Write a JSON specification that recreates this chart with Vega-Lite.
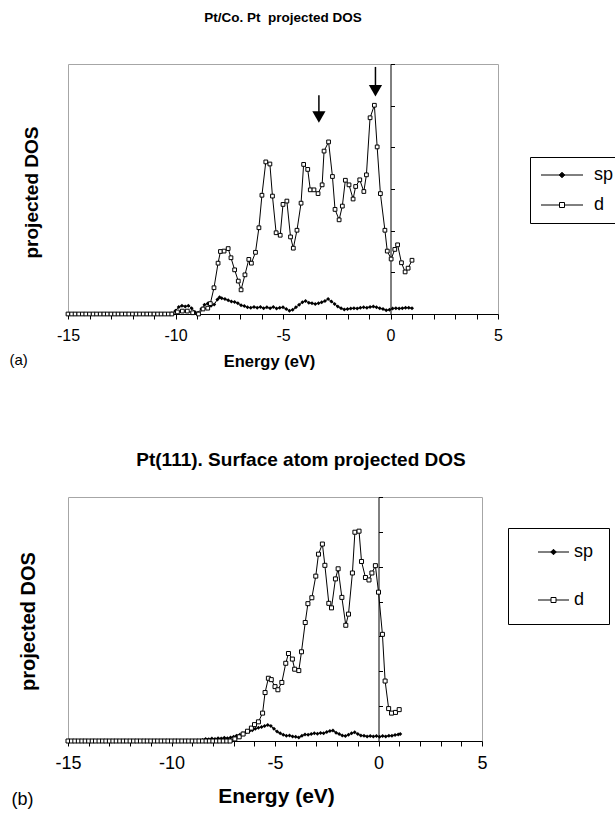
{
  "$schema": "https://vega.github.io/schema/vega-lite/v6.json",
  "padding": {"left": 8, "top": 10, "right": 0, "bottom": 0},
  "background": "white",
  "spacing": 80,
  "config": {
    "font": "Liberation Sans",
    "view": {"stroke": "#a6a6a6", "strokeWidth": 1},
    "axis": {"grid": false, "domainColor": "black", "tickColor": "black", "labelColor": "black", "titleColor": "black", "labelFont": "Liberation Sans", "titleFont": "Liberation Sans", "domainWidth": 1, "tickWidth": 1, "labelOverlap": false, "labelFlush": false},
    "title": {"font": "Liberation Sans", "color": "black", "fontWeight": "bold"},
    "legend": {"labelFont": "Liberation Sans", "labelColor": "black"}
  },
  "datasets": {
    "A": [
      {"s":"sp","e":-15,"v":0},{"s":"sp","e":-14.67,"v":0},{"s":"sp","e":-14.33,"v":0},{"s":"sp","e":-14,"v":0},{"s":"sp","e":-13.67,"v":0},{"s":"sp","e":-13.33,"v":0},{"s":"sp","e":-13,"v":0},{"s":"sp","e":-12.67,"v":0},{"s":"sp","e":-12.33,"v":0},{"s":"sp","e":-12,"v":0},{"s":"sp","e":-11.67,"v":0},{"s":"sp","e":-11.33,"v":0},{"s":"sp","e":-11,"v":0},{"s":"sp","e":-10.67,"v":0},{"s":"sp","e":-10.33,"v":0},{"s":"sp","e":-10.17,"v":0.02},
      {"s":"sp","e":-10.0,"v":0.08},{"s":"sp","e":-9.85,"v":0.17},{"s":"sp","e":-9.7,"v":0.2},{"s":"sp","e":-9.55,"v":0.18},{"s":"sp","e":-9.4,"v":0.2},{"s":"sp","e":-9.25,"v":0.14},{"s":"sp","e":-9.1,"v":0.05},{"s":"sp","e":-8.95,"v":0.03},{"s":"sp","e":-8.8,"v":0.12},{"s":"sp","e":-8.65,"v":0.22},{"s":"sp","e":-8.5,"v":0.25},{"s":"sp","e":-8.35,"v":0.2},{"s":"sp","e":-8.2,"v":0.23},{"s":"sp","e":-8.05,"v":0.35},{"s":"sp","e":-7.95,"v":0.4},{"s":"sp","e":-7.85,"v":0.38},{"s":"sp","e":-7.7,"v":0.36},{"s":"sp","e":-7.55,"v":0.33},{"s":"sp","e":-7.4,"v":0.3},{"s":"sp","e":-7.25,"v":0.29},{"s":"sp","e":-7.1,"v":0.26},{"s":"sp","e":-6.95,"v":0.21},{"s":"sp","e":-6.8,"v":0.19},{"s":"sp","e":-6.65,"v":0.16},{"s":"sp","e":-6.5,"v":0.15},{"s":"sp","e":-6.35,"v":0.17},{"s":"sp","e":-6.2,"v":0.15},{"s":"sp","e":-6.05,"v":0.17},{"s":"sp","e":-5.9,"v":0.14},{"s":"sp","e":-5.75,"v":0.16},{"s":"sp","e":-5.6,"v":0.14},{"s":"sp","e":-5.45,"v":0.17},{"s":"sp","e":-5.3,"v":0.13},{"s":"sp","e":-5.15,"v":0.15},{"s":"sp","e":-5.0,"v":0.16},{"s":"sp","e":-4.85,"v":0.12},{"s":"sp","e":-4.7,"v":0.08},{"s":"sp","e":-4.55,"v":0.1},{"s":"sp","e":-4.4,"v":0.16},{"s":"sp","e":-4.25,"v":0.22},{"s":"sp","e":-4.1,"v":0.28},{"s":"sp","e":-3.95,"v":0.31},{"s":"sp","e":-3.8,"v":0.27},{"s":"sp","e":-3.65,"v":0.26},{"s":"sp","e":-3.5,"v":0.24},{"s":"sp","e":-3.35,"v":0.26},{"s":"sp","e":-3.2,"v":0.28},{"s":"sp","e":-3.05,"v":0.31},{"s":"sp","e":-2.9,"v":0.36},{"s":"sp","e":-2.75,"v":0.3},{"s":"sp","e":-2.6,"v":0.24},{"s":"sp","e":-2.45,"v":0.18},{"s":"sp","e":-2.3,"v":0.14},{"s":"sp","e":-2.15,"v":0.11},{"s":"sp","e":-2.0,"v":0.12},{"s":"sp","e":-1.85,"v":0.13},{"s":"sp","e":-1.7,"v":0.14},{"s":"sp","e":-1.55,"v":0.13},{"s":"sp","e":-1.4,"v":0.15},{"s":"sp","e":-1.25,"v":0.16},{"s":"sp","e":-1.1,"v":0.15},{"s":"sp","e":-0.95,"v":0.17},{"s":"sp","e":-0.8,"v":0.18},{"s":"sp","e":-0.65,"v":0.16},{"s":"sp","e":-0.5,"v":0.14},{"s":"sp","e":-0.35,"v":0.12},{"s":"sp","e":-0.2,"v":0.09},{"s":"sp","e":-0.05,"v":0.1},{"s":"sp","e":0.1,"v":0.13},{"s":"sp","e":0.25,"v":0.14},{"s":"sp","e":0.4,"v":0.13},{"s":"sp","e":0.55,"v":0.14},{"s":"sp","e":0.7,"v":0.15},{"s":"sp","e":0.85,"v":0.15},{"s":"sp","e":1.0,"v":0.14},
      {"s":"d","e":-15,"v":0},{"s":"d","e":-14.83,"v":0},{"s":"d","e":-14.67,"v":0},{"s":"d","e":-14.5,"v":0},{"s":"d","e":-14.33,"v":0},{"s":"d","e":-14.17,"v":0},{"s":"d","e":-14,"v":0},{"s":"d","e":-13.83,"v":0},{"s":"d","e":-13.67,"v":0},{"s":"d","e":-13.5,"v":0},{"s":"d","e":-13.33,"v":0},{"s":"d","e":-13.17,"v":0},{"s":"d","e":-13,"v":0},{"s":"d","e":-12.83,"v":0},{"s":"d","e":-12.67,"v":0},{"s":"d","e":-12.5,"v":0},{"s":"d","e":-12.33,"v":0},{"s":"d","e":-12.17,"v":0},{"s":"d","e":-12,"v":0},{"s":"d","e":-11.83,"v":0},{"s":"d","e":-11.67,"v":0},{"s":"d","e":-11.5,"v":0},{"s":"d","e":-11.33,"v":0},{"s":"d","e":-11.17,"v":0},{"s":"d","e":-11,"v":0},{"s":"d","e":-10.83,"v":0},{"s":"d","e":-10.67,"v":0},{"s":"d","e":-10.5,"v":0},{"s":"d","e":-10.33,"v":0},{"s":"d","e":-10.17,"v":0},
      {"s":"d","e":-9.91,"v":0.05},{"s":"d","e":-9.68,"v":0.07},{"s":"d","e":-9.45,"v":0.07},{"s":"d","e":-9.2,"v":0.03},{"s":"d","e":-8.93,"v":0},{"s":"d","e":-8.72,"v":0.12},{"s":"d","e":-8.5,"v":0.14},{"s":"d","e":-8.38,"v":0.25},{"s":"d","e":-8.21,"v":0.63},{"s":"d","e":-8.02,"v":1.22},{"s":"d","e":-7.91,"v":1.5},{"s":"d","e":-7.74,"v":1.51},{"s":"d","e":-7.55,"v":1.57},{"s":"d","e":-7.42,"v":1.35},{"s":"d","e":-7.25,"v":1.06},{"s":"d","e":-7.08,"v":0.79},{"s":"d","e":-6.95,"v":0.58},{"s":"d","e":-6.77,"v":0.94},{"s":"d","e":-6.59,"v":1.31},{"s":"d","e":-6.47,"v":1.22},{"s":"d","e":-6.28,"v":1.48},{"s":"d","e":-6.12,"v":2.07},{"s":"d","e":-5.98,"v":2.85},{"s":"d","e":-5.8,"v":3.65},{"s":"d","e":-5.61,"v":3.6},{"s":"d","e":-5.49,"v":2.83},{"s":"d","e":-5.32,"v":1.95},{"s":"d","e":-5.13,"v":1.89},{"s":"d","e":-5.0,"v":2.63},{"s":"d","e":-4.82,"v":2.71},{"s":"d","e":-4.65,"v":1.85},{"s":"d","e":-4.52,"v":1.58},{"s":"d","e":-4.35,"v":2.01},{"s":"d","e":-4.16,"v":2.66},{"s":"d","e":-4.04,"v":3.59},{"s":"d","e":-3.85,"v":3.47},{"s":"d","e":-3.73,"v":2.98},{"s":"d","e":-3.56,"v":2.98},{"s":"d","e":-3.37,"v":2.89},{"s":"d","e":-3.18,"v":3.1},{"s":"d","e":-3.09,"v":3.91},{"s":"d","e":-2.88,"v":4.13},{"s":"d","e":-2.7,"v":3.3},{"s":"d","e":-2.58,"v":2.51},{"s":"d","e":-2.39,"v":2.26},{"s":"d","e":-2.24,"v":2.59},{"s":"d","e":-2.1,"v":3.21},{"s":"d","e":-1.93,"v":3.1},{"s":"d","e":-1.74,"v":2.76},{"s":"d","e":-1.62,"v":3.06},{"s":"d","e":-1.43,"v":3.22},{"s":"d","e":-1.24,"v":2.94},{"s":"d","e":-1.12,"v":3.34},{"s":"d","e":-0.95,"v":4.71},{"s":"d","e":-0.75,"v":5.01},{"s":"d","e":-0.62,"v":4.01},{"s":"d","e":-0.47,"v":2.89},{"s":"d","e":-0.26,"v":2.01},{"s":"d","e":-0.15,"v":1.51},{"s":"d","e":0.03,"v":1.32},{"s":"d","e":0.2,"v":1.55},{"s":"d","e":0.33,"v":1.66},{"s":"d","e":0.51,"v":1.23},{"s":"d","e":0.68,"v":1.01},{"s":"d","e":0.82,"v":1.1},{"s":"d","e":1.0,"v":1.29}
    ],
    "B": [
      {"s":"sp","e":-15,"v":0},{"s":"sp","e":-14.67,"v":0},{"s":"sp","e":-14.33,"v":0},{"s":"sp","e":-14,"v":0},{"s":"sp","e":-13.67,"v":0},{"s":"sp","e":-13.33,"v":0},{"s":"sp","e":-13,"v":0},{"s":"sp","e":-12.67,"v":0},{"s":"sp","e":-12.33,"v":0},{"s":"sp","e":-12,"v":0},{"s":"sp","e":-11.67,"v":0},{"s":"sp","e":-11.33,"v":0},{"s":"sp","e":-11,"v":0},{"s":"sp","e":-10.67,"v":0},{"s":"sp","e":-10.33,"v":0},{"s":"sp","e":-10,"v":0},{"s":"sp","e":-9.67,"v":0},{"s":"sp","e":-9.33,"v":0},{"s":"sp","e":-9,"v":0},{"s":"sp","e":-8.67,"v":0.01},
      {"s":"sp","e":-8.5,"v":0.03},{"s":"sp","e":-8.35,"v":0.06},{"s":"sp","e":-8.2,"v":0.05},{"s":"sp","e":-8.05,"v":0.07},{"s":"sp","e":-7.9,"v":0.06},{"s":"sp","e":-7.75,"v":0.08},{"s":"sp","e":-7.6,"v":0.07},{"s":"sp","e":-7.45,"v":0.09},{"s":"sp","e":-7.3,"v":0.08},{"s":"sp","e":-7.15,"v":0.1},{"s":"sp","e":-7.0,"v":0.12},{"s":"sp","e":-6.86,"v":0.15},{"s":"sp","e":-6.7,"v":0.18},{"s":"sp","e":-6.55,"v":0.22},{"s":"sp","e":-6.4,"v":0.25},{"s":"sp","e":-6.25,"v":0.28},{"s":"sp","e":-6.1,"v":0.31},{"s":"sp","e":-5.95,"v":0.35},{"s":"sp","e":-5.8,"v":0.38},{"s":"sp","e":-5.65,"v":0.4},{"s":"sp","e":-5.5,"v":0.43},{"s":"sp","e":-5.35,"v":0.46},{"s":"sp","e":-5.2,"v":0.43},{"s":"sp","e":-5.05,"v":0.35},{"s":"sp","e":-4.9,"v":0.27},{"s":"sp","e":-4.75,"v":0.22},{"s":"sp","e":-4.6,"v":0.18},{"s":"sp","e":-4.45,"v":0.15},{"s":"sp","e":-4.3,"v":0.16},{"s":"sp","e":-4.15,"v":0.13},{"s":"sp","e":-4.0,"v":0.12},{"s":"sp","e":-3.85,"v":0.1},{"s":"sp","e":-3.7,"v":0.15},{"s":"sp","e":-3.55,"v":0.19},{"s":"sp","e":-3.4,"v":0.18},{"s":"sp","e":-3.25,"v":0.2},{"s":"sp","e":-3.1,"v":0.22},{"s":"sp","e":-2.95,"v":0.21},{"s":"sp","e":-2.8,"v":0.23},{"s":"sp","e":-2.65,"v":0.22},{"s":"sp","e":-2.5,"v":0.26},{"s":"sp","e":-2.35,"v":0.29},{"s":"sp","e":-2.2,"v":0.3},{"s":"sp","e":-2.05,"v":0.24},{"s":"sp","e":-1.9,"v":0.2},{"s":"sp","e":-1.75,"v":0.16},{"s":"sp","e":-1.6,"v":0.14},{"s":"sp","e":-1.45,"v":0.18},{"s":"sp","e":-1.3,"v":0.22},{"s":"sp","e":-1.15,"v":0.25},{"s":"sp","e":-1.0,"v":0.2},{"s":"sp","e":-0.85,"v":0.16},{"s":"sp","e":-0.7,"v":0.15},{"s":"sp","e":-0.55,"v":0.13},{"s":"sp","e":-0.4,"v":0.14},{"s":"sp","e":-0.25,"v":0.13},{"s":"sp","e":-0.1,"v":0.14},{"s":"sp","e":0.05,"v":0.12},{"s":"sp","e":0.2,"v":0.14},{"s":"sp","e":0.35,"v":0.13},{"s":"sp","e":0.5,"v":0.15},{"s":"sp","e":0.65,"v":0.15},{"s":"sp","e":0.8,"v":0.17},{"s":"sp","e":0.95,"v":0.19},{"s":"sp","e":1.05,"v":0.2},
      {"s":"d","e":-15,"v":0},{"s":"d","e":-14.83,"v":0},{"s":"d","e":-14.67,"v":0},{"s":"d","e":-14.5,"v":0},{"s":"d","e":-14.33,"v":0},{"s":"d","e":-14.17,"v":0},{"s":"d","e":-14,"v":0},{"s":"d","e":-13.83,"v":0},{"s":"d","e":-13.67,"v":0},{"s":"d","e":-13.5,"v":0},{"s":"d","e":-13.33,"v":0},{"s":"d","e":-13.17,"v":0},{"s":"d","e":-13,"v":0},{"s":"d","e":-12.83,"v":0},{"s":"d","e":-12.67,"v":0},{"s":"d","e":-12.5,"v":0},{"s":"d","e":-12.33,"v":0},{"s":"d","e":-12.17,"v":0},{"s":"d","e":-12,"v":0},{"s":"d","e":-11.83,"v":0},{"s":"d","e":-11.67,"v":0},{"s":"d","e":-11.5,"v":0},{"s":"d","e":-11.33,"v":0},{"s":"d","e":-11.17,"v":0},{"s":"d","e":-11,"v":0},{"s":"d","e":-10.83,"v":0},{"s":"d","e":-10.67,"v":0},{"s":"d","e":-10.5,"v":0},{"s":"d","e":-10.33,"v":0},{"s":"d","e":-10.17,"v":0},{"s":"d","e":-10,"v":0},{"s":"d","e":-9.83,"v":0},{"s":"d","e":-9.67,"v":0},{"s":"d","e":-9.5,"v":0},{"s":"d","e":-9.33,"v":0},{"s":"d","e":-9.17,"v":0},{"s":"d","e":-9,"v":0},{"s":"d","e":-8.83,"v":0},{"s":"d","e":-8.67,"v":0},{"s":"d","e":-8.5,"v":0},{"s":"d","e":-8.33,"v":0},{"s":"d","e":-8.17,"v":0},{"s":"d","e":-8,"v":0},{"s":"d","e":-7.83,"v":0},{"s":"d","e":-7.67,"v":0},{"s":"d","e":-7.5,"v":0},{"s":"d","e":-7.33,"v":0},{"s":"d","e":-7.17,"v":0},
      {"s":"d","e":-6.94,"v":0.06},{"s":"d","e":-6.73,"v":0.12},{"s":"d","e":-6.54,"v":0.2},{"s":"d","e":-6.33,"v":0.28},{"s":"d","e":-6.14,"v":0.37},{"s":"d","e":-5.99,"v":0.47},{"s":"d","e":-5.8,"v":0.55},{"s":"d","e":-5.6,"v":0.8},{"s":"d","e":-5.48,"v":1.39},{"s":"d","e":-5.32,"v":1.8},{"s":"d","e":-5.18,"v":1.76},{"s":"d","e":-5.0,"v":1.56},{"s":"d","e":-4.86,"v":1.47},{"s":"d","e":-4.67,"v":1.68},{"s":"d","e":-4.48,"v":2.23},{"s":"d","e":-4.35,"v":2.51},{"s":"d","e":-4.16,"v":2.35},{"s":"d","e":-4.05,"v":2.06},{"s":"d","e":-3.85,"v":2.02},{"s":"d","e":-3.72,"v":2.56},{"s":"d","e":-3.54,"v":3.4},{"s":"d","e":-3.41,"v":3.94},{"s":"d","e":-3.22,"v":4.11},{"s":"d","e":-3.03,"v":4.73},{"s":"d","e":-2.9,"v":5.36},{"s":"d","e":-2.71,"v":5.65},{"s":"d","e":-2.59,"v":5.04},{"s":"d","e":-2.4,"v":3.95},{"s":"d","e":-2.27,"v":3.82},{"s":"d","e":-2.08,"v":4.65},{"s":"d","e":-1.95,"v":4.94},{"s":"d","e":-1.77,"v":4.12},{"s":"d","e":-1.58,"v":3.32},{"s":"d","e":-1.45,"v":3.64},{"s":"d","e":-1.26,"v":4.82},{"s":"d","e":-1.14,"v":5.99},{"s":"d","e":-0.94,"v":6.02},{"s":"d","e":-0.82,"v":5.15},{"s":"d","e":-0.63,"v":4.69},{"s":"d","e":-0.46,"v":4.62},{"s":"d","e":-0.32,"v":4.82},{"s":"d","e":-0.15,"v":5.03},{"s":"d","e":0.0,"v":4.27},{"s":"d","e":0.19,"v":3.06},{"s":"d","e":0.32,"v":1.72},{"s":"d","e":0.49,"v":0.93},{"s":"d","e":0.63,"v":0.8},{"s":"d","e":0.82,"v":0.82},{"s":"d","e":1.0,"v":0.9}
    ],
    "arrows": [
      {"e": -3.33, "top": 5.25, "head": 4.73},
      {"e": -0.70, "top": 5.93, "head": 5.36}
    ],
    "keys": [{"s": "sp"}, {"s": "d"}]
  },
  "resolve": {
    "scale": {"x": "independent", "y": "independent", "shape": "independent", "fill": "independent"},
    "legend": {"shape": "independent", "fill": "independent"}
  },
  "vconcat": [
    {
      "width": 430,
      "height": 250,
      "title": {"text": "Pt/Co. Pt \u00a0projected DOS", "fontSize": 13.5, "fontWeight": "bold", "frame": "group", "anchor": "middle", "offset": 25, "baseline": "bottom"},
      "resolve": {"axis": {"x": "independent", "y": "independent"}},
      "layer": [
        {
          "data": {"name": "A"},
          "mark": {"type": "line", "color": "black", "strokeWidth": 1},
          "encoding": {
            "x": {"field": "e", "type": "quantitative", "scale": {"domain": [-15, 5], "nice": false, "zero": false},
              "axis": {"orient": "bottom", "values": [-15,-14,-13,-12,-11,-10,-9,-8,-7,-6,-5,-4,-3,-2,-1,0,1,2,3,4,5], "labelExpr": "datum.value % 5 === 0 ? '' + datum.value : ''", "tickSize": 5, "labelFontSize": 16, "labelPadding": 8, "title": "Energy (eV)", "titleFontSize": 16.5, "titleFontWeight": "bold", "titleX": 201, "titleY": 47, "titleBaseline": "middle", "titleAlign": "center"}},
            "y": {"field": "v", "type": "quantitative", "scale": {"domain": [0, 6], "nice": false},
              "axis": {"orient": "right", "offset": -107.5, "values": [0,1,2,3,4,5,6], "labels": false, "tickSize": 4, "title": null}},
            "detail": {"field": "s"}
          }
        },
        {
          "data": {"name": "A"},
          "transform": [{"filter": "datum.s === 'sp'"}],
          "mark": {"type": "point", "shape": "diamond", "filled": true, "color": "black", "size": 16, "opacity": 1},
          "encoding": {
            "x": {"field": "e", "type": "quantitative",
              "axis": {"orient": "bottom", "title": "(a)", "labels": false, "ticks": false, "domain": false, "titleFontSize": 15, "titleFontWeight": "normal", "titleX": -59, "titleY": 45, "titleAlign": "left", "titleBaseline": "middle"}},
            "y": {"field": "v", "type": "quantitative",
              "axis": {"orient": "left", "title": "projected DOS", "labels": false, "ticks": false, "domain": false, "titleFontSize": 19, "titleFontWeight": "bold", "titleX": -37, "titleY": 128, "titleAngle": -90, "titleAlign": "center", "titleBaseline": "middle"}}
          }
        },
        {
          "data": {"name": "A"},
          "transform": [{"filter": "datum.s === 'd'"}],
          "mark": {"type": "point", "shape": "square", "filled": true, "fill": "white", "stroke": "black", "strokeWidth": 1, "size": 14, "opacity": 1},
          "encoding": {
            "x": {"field": "e", "type": "quantitative", "axis": null},
            "y": {"field": "v", "type": "quantitative", "axis": null}
          }
        },
        {
          "data": {"name": "arrows"},
          "mark": {"type": "rule", "color": "black", "strokeWidth": 1.5},
          "encoding": {
            "x": {"field": "e", "type": "quantitative", "axis": null},
            "y": {"field": "top", "type": "quantitative", "axis": null},
            "y2": {"field": "head"}
          }
        },
        {
          "data": {"name": "arrows"},
          "mark": {"type": "point", "shape": "triangle-down", "filled": true, "color": "black", "size": 175, "opacity": 1},
          "encoding": {
            "x": {"field": "e", "type": "quantitative", "axis": null},
            "y": {"field": "head", "type": "quantitative", "axis": null}
          }
        },
        {
          "data": {"name": "keys"},
          "mark": {"type": "point", "opacity": 0, "stroke": "black", "strokeWidth": 1},
          "encoding": {
            "shape": {"field": "s", "type": "nominal", "scale": {"domain": ["sp", "d"], "range": ["M-1.4,0H7M2.8,-0.55L3.35,0L2.8,0.55L2.25,0Z", "M-1.4,0H2.3M3.3,0H7M2.3,-0.5H3.3V0.5H2.3Z"]},
              "legend": {"orient": "none", "legendX": 462, "legendY": 93, "title": null, "strokeColor": "black", "fillColor": "white", "padding": 9, "labelFontSize": 18, "rowPadding": 12, "symbolSize": 100, "labelOffset": 37, "symbolOpacity": 1, "symbolFillColor": "white", "symbolStrokeColor": "black", "symbolStrokeWidth": 1}},
            "fill": {"field": "s", "type": "nominal", "scale": {"domain": ["sp", "d"], "range": ["black", "white"]},
              "legend": {"orient": "none", "legendX": 462, "legendY": 93, "title": null, "strokeColor": "black", "fillColor": "white", "padding": 9, "labelFontSize": 18, "rowPadding": 12, "symbolSize": 100, "labelOffset": 37, "symbolOpacity": 1, "symbolFillColor": "white", "symbolStrokeColor": "black", "symbolStrokeWidth": 1}}
          }
        }
      ]
    },
    {
      "width": 414,
      "height": 244,
      "title": {"text": "Pt(111). Surface atom projected DOS", "fontSize": 19, "fontWeight": "bold", "frame": "group", "anchor": "middle", "offset": 8, "dx": 26, "baseline": "bottom"},
      "resolve": {"axis": {"x": "independent", "y": "independent"}},
      "layer": [
        {
          "data": {"name": "B"},
          "mark": {"type": "line", "color": "black", "strokeWidth": 1},
          "encoding": {
            "x": {"field": "e", "type": "quantitative", "scale": {"domain": [-15, 5], "nice": false, "zero": false},
              "axis": {"orient": "bottom", "values": [-15,-14,-13,-12,-11,-10,-9,-8,-7,-6,-5,-4,-3,-2,-1,0,1,2,3,4,5], "labelExpr": "datum.value % 5 === 0 ? '' + datum.value : ''", "tickSize": 5, "labelFontSize": 18, "labelPadding": 8, "title": "Energy (eV)", "titleFontSize": 21, "titleFontWeight": "bold", "titleX": 208, "titleY": 55, "titleBaseline": "middle", "titleAlign": "center"}},
            "y": {"field": "v", "type": "quantitative", "scale": {"domain": [0, 7], "nice": false},
              "axis": {"orient": "right", "offset": -103.5, "values": [0,1,2,3,4,5,6,7], "labels": false, "tickSize": 4, "title": null}},
            "detail": {"field": "s"}
          }
        },
        {
          "data": {"name": "B"},
          "transform": [{"filter": "datum.s === 'sp'"}],
          "mark": {"type": "point", "shape": "diamond", "filled": true, "color": "black", "size": 16, "opacity": 1},
          "encoding": {
            "x": {"field": "e", "type": "quantitative",
              "axis": {"orient": "bottom", "title": "(b)", "labels": false, "ticks": false, "domain": false, "titleFontSize": 18, "titleFontWeight": "normal", "titleX": -57, "titleY": 58, "titleAlign": "left", "titleBaseline": "middle"}},
            "y": {"field": "v", "type": "quantitative",
              "axis": {"orient": "left", "title": "projected DOS", "labels": false, "ticks": false, "domain": false, "titleFontSize": 20, "titleFontWeight": "bold", "titleX": -40, "titleY": 124, "titleAngle": -90, "titleAlign": "center", "titleBaseline": "middle"}}
          }
        },
        {
          "data": {"name": "B"},
          "transform": [{"filter": "datum.s === 'd'"}],
          "mark": {"type": "point", "shape": "square", "filled": true, "fill": "white", "stroke": "black", "strokeWidth": 1, "size": 16, "opacity": 1},
          "encoding": {
            "x": {"field": "e", "type": "quantitative", "axis": null},
            "y": {"field": "v", "type": "quantitative", "axis": null}
          }
        },
        {
          "data": {"name": "keys"},
          "mark": {"type": "point", "opacity": 0, "stroke": "black", "strokeWidth": 1},
          "encoding": {
            "shape": {"field": "s", "type": "nominal", "scale": {"domain": ["sp", "d"], "range": ["M1.2,0H7.4M4.3,-0.55L4.85,0L4.3,0.55L3.75,0Z", "M1.2,0H3.8M4.8,0H7.4M3.8,-0.5H4.8V0.5H3.8Z"]},
              "legend": {"orient": "none", "legendX": 440, "legendY": 31, "title": null, "strokeColor": "black", "fillColor": "white", "padding": 15, "labelFontSize": 18, "rowPadding": 30, "symbolSize": 100, "labelOffset": 33, "symbolOpacity": 1, "symbolFillColor": "white", "symbolStrokeColor": "black", "symbolStrokeWidth": 1, "labelExpr": "datum.label + '\u00a0\u00a0\u00a0\u00a0'"}},
            "fill": {"field": "s", "type": "nominal", "scale": {"domain": ["sp", "d"], "range": ["black", "white"]},
              "legend": {"orient": "none", "legendX": 440, "legendY": 31, "title": null, "strokeColor": "black", "fillColor": "white", "padding": 15, "labelFontSize": 18, "rowPadding": 30, "symbolSize": 100, "labelOffset": 33, "symbolOpacity": 1, "symbolFillColor": "white", "symbolStrokeColor": "black", "symbolStrokeWidth": 1, "labelExpr": "datum.label + '\u00a0\u00a0\u00a0\u00a0'"}}
          }
        }
      ]
    }
  ]
}
